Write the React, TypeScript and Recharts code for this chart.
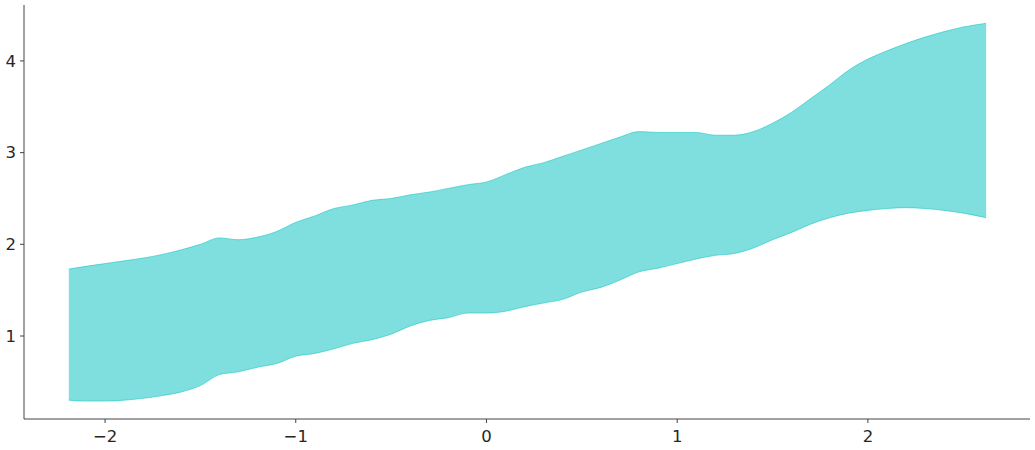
import React from 'react';
import { AreaChart, Area, XAxis, YAxis } from 'recharts';

// x positions of the band
const xs = [
  -2.19, -2.1, -2.0, -1.9, -1.8, -1.7, -1.6, -1.5, -1.4, -1.3, -1.2, -1.1, -1.0,
  -0.9, -0.8, -0.7, -0.6, -0.5, -0.4, -0.3, -0.2, -0.1, 0.0, 0.1, 0.2, 0.3, 0.4,
  0.5, 0.6, 0.7, 0.8, 0.9, 1.0, 1.1, 1.2, 1.3, 1.4, 1.5, 1.6, 1.7, 1.8, 1.9, 2.0,
  2.1, 2.2, 2.3, 2.4, 2.5, 2.62,
];

// upper edge of the interval
const upper = [
  1.73, 1.76, 1.79, 1.82, 1.85, 1.89, 1.94, 2.0, 2.07, 2.05, 2.08, 2.14, 2.24,
  2.31, 2.39, 2.43, 2.48, 2.5, 2.54, 2.57, 2.61, 2.65, 2.68, 2.76, 2.84, 2.89, 2.96,
  3.03, 3.1, 3.17, 3.23, 3.22, 3.22, 3.22, 3.19, 3.19, 3.23, 3.32, 3.44, 3.59, 3.74,
  3.9, 4.02, 4.11, 4.19, 4.26, 4.32, 4.37, 4.41,
];

// lower edge of the interval
const lower = [
  0.3, 0.29, 0.29, 0.3, 0.32, 0.35, 0.39, 0.46, 0.58, 0.61, 0.66, 0.7, 0.78,
  0.81, 0.86, 0.92, 0.96, 1.02, 1.11, 1.17, 1.2, 1.25, 1.25, 1.27, 1.32, 1.36, 1.4,
  1.48, 1.53, 1.61, 1.7, 1.74, 1.79, 1.84, 1.88, 1.9, 1.96, 2.05, 2.13, 2.22, 2.29,
  2.34, 2.37, 2.39, 2.4, 2.39, 2.37, 2.34, 2.29,
];

const xTicks = [-2, -1, 0, 1, 2];
const yTicks = [1, 2, 3, 4];

const data = xs.map((x, i) => ({ x, band: [lower[i], upper[i]] }));

const fmt = (v: number) => (v < 0 ? '\u2212' + Math.abs(v) : String(v));

const tickStyle = { fill: '#262626', fontSize: 16.5, fontFamily: 'DejaVu Sans' };
const axisLine = { stroke: '#444', strokeWidth: 1 };

export default function App() {
  return (
    <div style={{ position: 'absolute', left: 0, top: 0, background: '#fff' }}>
      <AreaChart
        width={1035}
        height={450}
        data={data}
        margin={{ top: 5, right: 5, left: 0, bottom: 0 }}
      >
        <XAxis
          type="number"
          dataKey="x"
          domain={[-2.425, 2.85]}
          ticks={xTicks}
          tickFormatter={fmt}
          allowDataOverflow
          height={31}
          axisLine={axisLine}
          tickLine={axisLine}
          tickSize={4}
          tickMargin={7}
          tick={tickStyle}
        />
        <YAxis
          type="number"
          domain={[0.095, 4.61]}
          ticks={yTicks}
          allowDataOverflow
          width={24}
          axisLine={axisLine}
          tickLine={axisLine}
          tickSize={4}
          tickMargin={4}
          tick={tickStyle}
        />
        <Area
          type="monotone"
          dataKey="band"
          fill="#00c0bf"
          fillOpacity={0.5}
          stroke="#00c0bf"
          strokeOpacity={0.5}
          strokeWidth={1}
          isAnimationActive={false}
          dot={false}
          activeDot={false}
        />
      </AreaChart>
    </div>
  );
}
